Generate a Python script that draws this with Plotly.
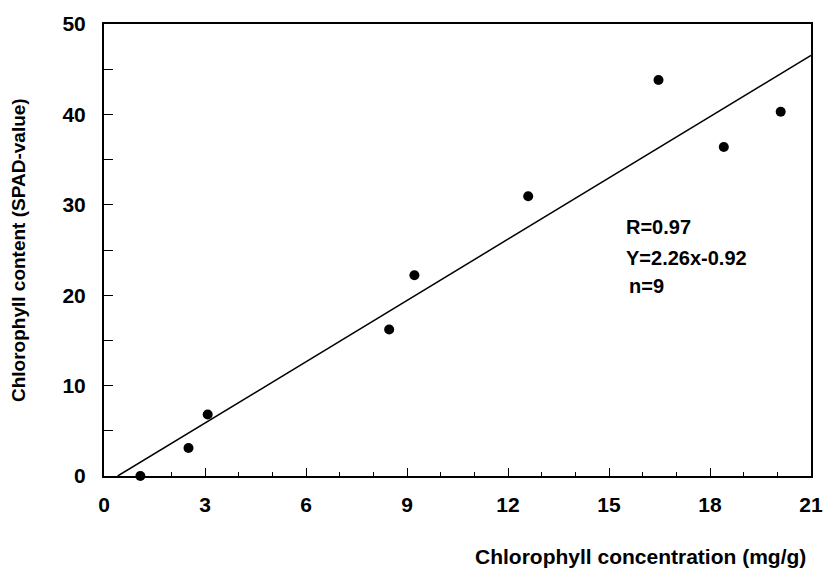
import plotly.graph_objects as go

# Data
chl_conc = [1.08, 2.51, 3.08, 8.47, 9.22, 12.6, 16.47, 18.41, 20.1]
spad_val = [0.0, 3.1, 6.8, 16.2, 22.2, 30.95, 43.8, 36.4, 40.3]

slope = 2.26
intercept = -0.92
fit_x = [-intercept / slope, 21]
fit_y = [slope * x + intercept for x in fit_x]

x_ticks = [0, 3, 6, 9, 12, 15, 18, 21]
y_ticks = [0, 10, 20, 30, 40, 50]

FONT = "Liberation Sans, Arial, sans-serif"

fig = go.Figure()
fig.add_trace(go.Scatter(x=fit_x, y=fit_y, mode="lines",
                         line=dict(color="black", width=1.5), showlegend=False,
                         cliponaxis=True))
fig.add_trace(go.Scatter(x=chl_conc, y=spad_val, mode="markers",
                         marker=dict(color="black", size=10), showlegend=False,
                         cliponaxis=False))

fig.update_layout(
    width=835, height=579,
    margin=dict(l=104, r=14, t=14, b=103),
    paper_bgcolor="white", plot_bgcolor="white",
    font=dict(family=FONT, color="black"),
    xaxis=dict(range=[0, 21], tickvals=x_ticks, ticktext=[str(v) for v in x_ticks],
               ticks="inside", ticklen=8, tickwidth=1.2, tickcolor="black",
               minor=dict(dtick=1, ticks="inside", ticklen=4, tickcolor="black", tickwidth=1),
               showline=True, linecolor="black", linewidth=2, mirror=True,
               showgrid=False, zeroline=False,
               tickfont=dict(size=21, family=FONT, weight="bold"),
               ticklabelstandoff=9),
    yaxis=dict(range=[0, 50], tickvals=y_ticks, ticktext=[str(v) for v in y_ticks],
               ticks="inside", ticklen=9, tickwidth=1.2, tickcolor="black",
               minor=dict(dtick=5, ticks="inside", ticklen=9, tickcolor="black", tickwidth=1.2),
               showline=True, linecolor="black", linewidth=2, mirror=True,
               showgrid=False, zeroline=False,
               tickfont=dict(size=21, family=FONT, weight="bold"),
               ticklabelstandoff=12),
)

annot_font = dict(size=20, family=FONT, color="black", weight="bold")
fig.add_annotation(text="R=0.97", x=15.45, y=27.6, xref="x", yref="y",
                   xanchor="left", yanchor="middle", showarrow=False, font=annot_font)
fig.add_annotation(text="Y=2.26x-0.92", x=15.45, y=24.1, xref="x", yref="y",
                   xanchor="left", yanchor="middle", showarrow=False, font=annot_font)
fig.add_annotation(text="n=9", x=15.53, y=21.0, xref="x", yref="y",
                   xanchor="left", yanchor="middle", showarrow=False, font=annot_font)

fig.add_annotation(text="Chlorophyll concentration (mg/g)", xref="paper", yref="paper",
                   x=1.0, y=0, xanchor="right", yanchor="middle", yshift=-80, xshift=-3,
                   showarrow=False, font=dict(size=21, family=FONT, color="black", weight="bold"))
fig.add_annotation(text="Chlorophyll content (SPAD-value)", xref="paper", yref="paper",
                   x=0, y=0.5, xanchor="center", yanchor="middle", xshift=-86,
                   textangle=-90, showarrow=False,
                   font=dict(size=19, family=FONT, color="black", weight="bold"))

fig.write_html("out.html")
